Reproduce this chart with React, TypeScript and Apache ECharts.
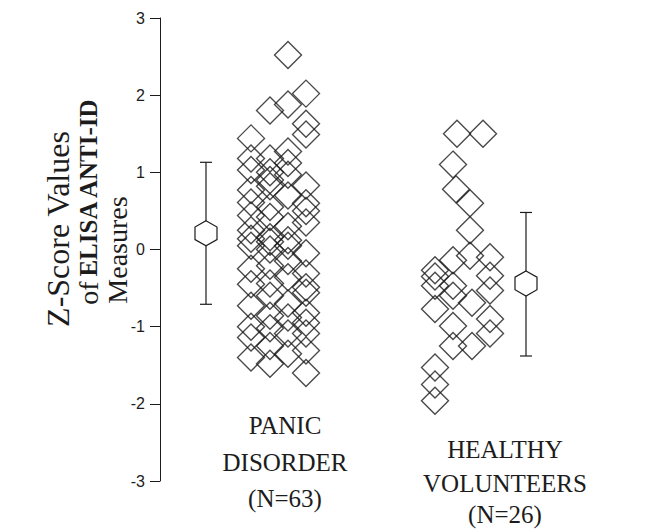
import React, { useEffect, useRef } from "react";
import * as echarts from "echarts";

// Horizontal jitter positions (axis units) and Z-scores
const panicJitter = [
  12.8, 14.6, 12.8, 11.0, 14.6, 14.6, 9.1, 12.8, 9.1, 11.0,
  12.8, 9.1, 11.0, 12.8, 11.0, 14.6, 11.0, 9.1, 12.8, 9.1,
  14.6, 11.0, 14.6, 9.1, 11.0, 14.6, 12.8, 9.1, 11.0, 9.1,
  12.8, 11.0, 9.1, 12.8, 11.0, 14.6, 12.8, 11.0, 9.1, 14.6,
  12.8, 11.0, 9.1, 14.6, 14.6, 11.0, 12.8, 9.1, 14.6, 11.0,
  12.8, 14.6, 9.1, 11.0, 12.8, 14.6, 9.1, 11.0, 14.6, 12.8,
  9.1, 11.0, 14.6,
];
const panicZ = [
  2.52, 2.02, 1.88, 1.8, 1.63, 1.49, 1.44, 1.27, 1.18, 1.18,
  1.12, 1.03, 1.0, 0.97, 0.9, 0.83, 0.82, 0.77, 0.7, 0.61,
  0.6, 0.55, 0.5, 0.44, 0.42, 0.35, 0.3, 0.25, 0.16, 0.14,
  0.12, 0.1, 0.05, 0.05, 0.0, -0.05, -0.15, -0.21, -0.25, -0.31,
  -0.36, -0.44, -0.45, -0.49, -0.56, -0.6, -0.7, -0.73, -0.82, -0.86,
  -0.88, -0.95, -1.0, -1.02, -1.09, -1.09, -1.14, -1.25, -1.31, -1.35,
  -1.4, -1.48, -1.6,
];
const healthyJitter = [
  29.7, 32.3, 29.3, 29.6, 31.0, 31.0, 31.0, 33.0, 29.3, 27.5,
  27.5, 27.5, 29.3, 33.0, 33.0, 31.2, 29.3, 27.5, 29.3, 33.0,
  33.0, 29.3, 31.2, 27.5, 27.5, 27.5,
];
const healthyZ = [
  1.5, 1.5, 1.1, 0.78, 0.6, 0.25, -0.08, -0.1, -0.14, -0.27,
  -0.35, -0.47, -0.47, -0.34, -0.53, -0.69, -0.6, -0.77, -0.99, -0.9,
  -1.09, -1.25, -1.25, -1.53, -1.75, -1.96,
];
// group summaries: x position, mean, lower, upper
const summaryX = [4.6, 36.6];
const summaryMean = [0.21, -0.44];
const summaryLow = [-0.71, -1.38];
const summaryHigh = [1.13, 0.48];

const yTicks = [-3, -2, -1, 0, 1, 2, 3];
const groupLabels = [
  ["PANIC", "DISORDER", "(N=63)"],
  ["HEALTHY", "VOLUNTEERS", "(N=26)"],
];

const INK = "#1c1c1c";
const SERIF = '"Liberation Serif", "Times New Roman", serif';

export default function App() {
  const ref = useRef<HTMLDivElement>(null);
  useEffect(() => {
    if (!ref.current) return;
    const chart = echarts.init(ref.current, undefined, { renderer: "svg" });
    const panicData = panicZ.map((z, i) => [panicJitter[i], z]);
    const healthyData = healthyZ.map((z, i) => [healthyJitter[i], z]);
    const summaryData = summaryX.map((x, i) => [x, summaryMean[i], summaryLow[i], summaryHigh[i]]);

    const textEl = (text: string, x: number, y: number, size: number, rot = 0, weight = "normal") => ({
      type: "text",
      x,
      y,
      rotation: rot,
      style: {
        text,
        fill: INK,
        fontSize: size,
        fontWeight: weight,
        fontFamily: SERIF,
        align: "center",
        verticalAlign: "middle",
        textAlign: "center",
        textVerticalAlign: "middle",
      },
    });

    const labelPos = [
      { x: 285, y: [425, 462, 498] },
      { x: 505, y: [449, 483, 514] },
    ];
    const groupTexts: any[] = [];
    groupLabels.forEach((lines, g) => {
      lines.forEach((t, k) => groupTexts.push(textEl(t, labelPos[g].x, labelPos[g].y[k], 25)));
    });

    chart.setOption({
      animation: false,
      backgroundColor: "#fff",
      grid: { left: 160, top: 18, right: 0, bottom: 48 },
      xAxis: { type: "value", min: 0, max: 49, show: false },
      yAxis: {
        type: "value",
        min: yTicks[0],
        max: yTicks[yTicks.length - 1],
        interval: 1,
        axisLine: { show: true, lineStyle: { color: INK, width: 1 } },
        axisTick: { show: true, length: 10, lineStyle: { color: INK, width: 1 } },
        splitLine: { show: false },
        axisLabel: {
          color: INK,
          fontSize: 16,
          fontFamily: '"Liberation Sans", Arial, sans-serif',
          margin: 15,
        },
      },
      series: [
        {
          type: "scatter",
          data: panicData,
          symbol: "diamond",
          symbolSize: 27,
          itemStyle: { color: "rgba(0,0,0,0)", borderColor: INK, borderWidth: 1.4 },
          silent: true,
        },
        {
          type: "scatter",
          data: healthyData,
          symbol: "diamond",
          symbolSize: 27,
          itemStyle: { color: "rgba(0,0,0,0)", borderColor: INK, borderWidth: 1.4 },
          silent: true,
        },
        {
          type: "custom",
          data: summaryData,
          silent: true,
          renderItem: (params: any, api: any) => {
            const x = api.value(0);
            const pm = api.coord([x, api.value(1)]);
            const pl = api.coord([x, api.value(2)]);
            const ph = api.coord([x, api.value(3)]);
            const cap = 6;
            const hw = 11;
            const hh = 12.5;
            const hs = 6.3;
            const ls = { stroke: INK, lineWidth: 1.2 };
            return {
              type: "group",
              children: [
                { type: "line", shape: { x1: ph[0], y1: ph[1], x2: pl[0], y2: pl[1] }, style: ls },
                { type: "line", shape: { x1: ph[0] - cap, y1: ph[1], x2: ph[0] + cap, y2: ph[1] }, style: ls },
                { type: "line", shape: { x1: pl[0] - cap, y1: pl[1], x2: pl[0] + cap, y2: pl[1] }, style: ls },
                {
                  type: "polygon",
                  shape: {
                    points: [
                      [pm[0], pm[1] - hh],
                      [pm[0] + hw, pm[1] - hs],
                      [pm[0] + hw, pm[1] + hs],
                      [pm[0], pm[1] + hh],
                      [pm[0] - hw, pm[1] + hs],
                      [pm[0] - hw, pm[1] - hs],
                    ],
                  },
                  style: { fill: "#fff", stroke: INK, lineWidth: 1.2 },
                },
              ],
            };
          },
        },
      ],
      graphic: [
        textEl("Z-Score Values", 58, 229, 32, Math.PI / 2),
        textEl("of", 88, 293, 28, Math.PI / 2),
        textEl("ELISA ANTI-ID", 88, 188, 25, Math.PI / 2, "bold"),
        textEl("Measures", 117, 250, 28, Math.PI / 2),
        ...groupTexts,
      ],
    });
    return () => chart.dispose();
  }, []);
  return (
    <div
      ref={ref}
      style={{ position: "fixed", left: 0, top: 0, width: 650, height: 529, background: "#fff" }}
    />
  );
}
